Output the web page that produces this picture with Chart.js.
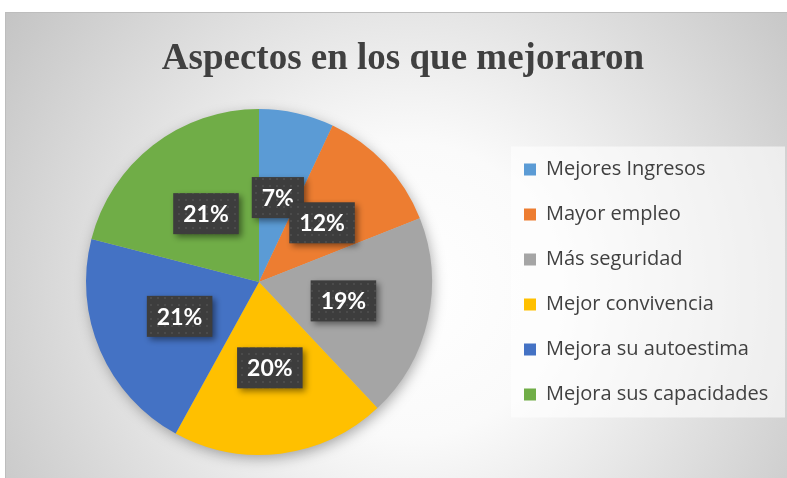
<!DOCTYPE html>
<html>
<head>
<meta charset="utf-8">
<script src="https://cdn.jsdelivr.net/npm/chart.js@4.4.1/dist/chart.umd.min.js"></script>
<style>
  html, body { margin: 0; padding: 0; background: #ffffff; }
  #wrap { width: 787px; height: 478px; }
</style>
</head>
<body>
<div id="wrap"><canvas id="chart" width="787" height="478"></canvas></div>
<script>
// data (percent of answers)
var categories = ["Mejores Ingresos", "Mayor empleo", "Más seguridad", "Mejor convivencia", "Mejora su autoestima", "Mejora sus capacidades"];
var values = [7, 12, 19, 20, 21, 21];
var sliceColors = ["#5B9BD5", "#ED7D31", "#A5A5A5", "#FFC000", "#4472C4", "#70AD47"];
var chartTitle = "Aspectos en los que mejoraron";

// dotted dark fill for the value boxes
function makeDotPattern(ctx) {
  var p = document.createElement("canvas");
  p.width = 7; p.height = 7;
  var pc = p.getContext("2d");
  pc.fillStyle = "#3d3d3d";
  pc.fillRect(0, 0, 7, 7);
  pc.fillStyle = "#4b4b4b";
  pc.fillRect(3, 3, 2, 2);
  return ctx.createPattern(p, "repeat");
}

// gradient frame + legend panel behind everything
var backdrop = {
  id: "backdrop",
  beforeDraw: function (chart) {
    var ctx = chart.ctx;
    ctx.save();
    ctx.fillStyle = "#ffffff";
    ctx.fillRect(0, 0, chart.width, chart.height);
    var g = ctx.createRadialGradient(410, 290, 0, 410, 290, 490);
    g.addColorStop(0, "#ffffff");
    g.addColorStop(0.3, "#fafafa");
    g.addColorStop(1, "#c4c4c4");
    ctx.fillStyle = g;
    ctx.fillRect(6, 12, chart.width - 6, chart.height - 12);
    ctx.strokeStyle = "#bdbdbd";
    ctx.lineWidth = 1;
    ctx.strokeRect(5.5, 12.5, chart.width, chart.height);

    var lg = chart.legend;
    if (lg && lg.legendHitBoxes && lg.legendHitBoxes.length) {
      var hb = lg.legendHitBoxes;
      var top = hb[0].top - 13;
      var bottom = hb[hb.length - 1].top + hb[hb.length - 1].height + 13;
      ctx.fillStyle = "rgba(255,255,255,0.6)";
      ctx.fillRect(lg.left + 12, top, 274, bottom - top);
    }
    ctx.restore();
  }
};

// fixed legend width so the pie sits where it does in the picture
var legendWidth = {
  id: "legendWidth",
  beforeLayout: function (chart) {
    var lg = chart.legend;
    if (lg && !lg._patched) {
      var fit = lg.fit;
      lg.fit = function () {
        fit.call(this);
        this.width = 288;
      };
      lg._patched = true;
    }
  }
};

// soft shadow under the whole pie
var pieShadow = {
  id: "pieShadow",
  beforeDatasetsDraw: function (chart) {
    var arc = chart.getDatasetMeta(0).data[0];
    if (!arc) return;
    var ctx = chart.ctx;
    ctx.save();
    ctx.shadowColor = "rgba(0,0,0,0.35)";
    ctx.shadowBlur = 14;
    ctx.shadowOffsetX = 2;
    ctx.shadowOffsetY = 4;
    ctx.fillStyle = "#bbbbbb";
    ctx.beginPath();
    ctx.arc(arc.x, arc.y, arc.outerRadius - 1, 0, Math.PI * 2);
    ctx.fill();
    ctx.restore();
  }
};

// percentage labels in dark boxes
var valueBoxes = {
  id: "valueBoxes",
  afterDatasetsDraw: function (chart) {
    var ctx = chart.ctx;
    var pattern = makeDotPattern(ctx);
    var arcs = chart.getDatasetMeta(0).data;
    ctx.save();
    ctx.font = "bold 23px Lato";
    ctx.textAlign = "center";
    ctx.textBaseline = "middle";
    arcs.forEach(function (arc, i) {
      var pt = arc.getCenterPoint();
      var txt = values[i] + "%";
      var w = Math.max(ctx.measureText(txt).width + 20, 50);
      var h = 41;
      ctx.save();
      ctx.shadowColor = "rgba(0,0,0,0.45)";
      ctx.shadowBlur = 6;
      ctx.shadowOffsetX = 3;
      ctx.shadowOffsetY = 3;
      ctx.fillStyle = pattern;
      ctx.fillRect(pt.x - w / 2, pt.y - h / 2, w, h);
      ctx.restore();
      ctx.fillStyle = "#ffffff";
      ctx.fillText(txt, pt.x, pt.y + 1);
    });
    ctx.restore();
  }
};

var ctx = document.getElementById("chart").getContext("2d");
var myChart = new Chart(ctx, {
  type: "pie",
  data: {
    labels: categories,
    datasets: [
      {
        data: values,
        backgroundColor: sliceColors,
        borderWidth: 0
      }
    ]
  },
  options: {
    responsive: false,
    animation: false,
    layout: { padding: { left: 19, right: 0, top: 12, bottom: 23 } },
    plugins: {
      title: {
        display: true,
        text: chartTitle,
        color: "#404040",
        font: { family: "'Liberation Serif', 'Times New Roman', serif", size: 37, weight: "bold" },
        padding: { top: 25, bottom: 27.6 }
      },
      legend: {
        position: "right",
        fullSize: false,
        labels: {
          boxWidth: 12,
          boxHeight: 12,
          padding: 25,
          color: "#404040",
          font: { family: "'Open Sans'", size: 20 }
        }
      },
      tooltip: { enabled: false }
    }
  },
  plugins: [backdrop, legendWidth, pieShadow, valueBoxes]
});
</script>
</body>
</html>
